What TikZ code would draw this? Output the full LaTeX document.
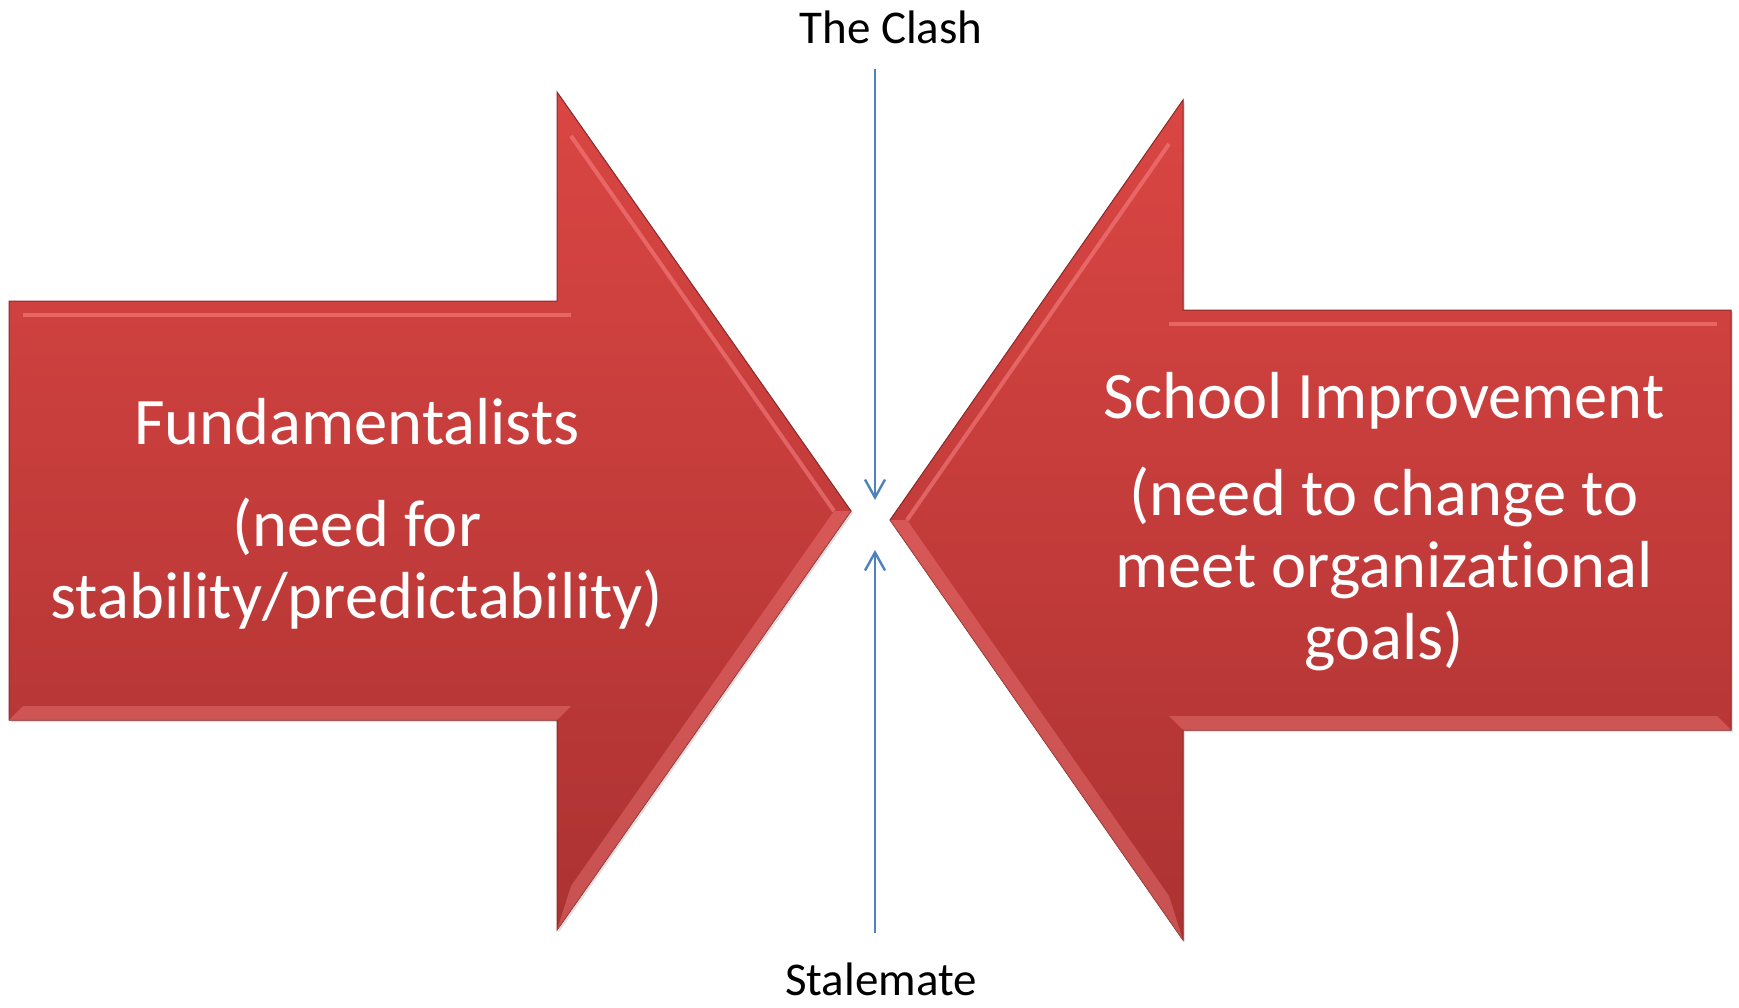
\documentclass[tikz,border=0pt]{standalone}
\usepackage{fontspec}
\setmainfont{Carlito}[Ligatures=NoCommon]
\usetikzlibrary{
  arrows.meta, % for Straight Barb arrow tip
  positioning, % for relative placement of the texts
  shadows % for the soft shadow under the block arrows
}
\definecolor{arrowtop}{RGB}{218,70,67}
\definecolor{arrowbot}{RGB}{172,50,50}
\definecolor{arrowedge}{RGB}{140,42,42}
\definecolor{bevellight}{RGB}{252,140,140}
\definecolor{clashblue}{RGB}{79,129,189}
\tikzset{
  bigarrow/.style={ % style for the two block arrows
    top color=arrowtop, bottom color=arrowbot, % vertical gradient
    draw=arrowedge, line width=1pt, % thin dark rim
    drop shadow={opacity=0.25, shadow xshift=2pt, shadow yshift=-2pt},
  },
  bevelline/.style={ % light line on the inner edge of the bevel
    draw=bevellight, line width=4pt, opacity=0.5,
  },
  bevelface/.style={ % lighter bevel face on the lower edges
    fill=bevellight, opacity=0.35,
  },
  inside/.style={ % white text on the arrows
    text=white, align=center, inner sep=0pt,
    font=\fontsize{66.5}{72}\selectfont,
  },
  sidetext/.style={ % black texts above and below
    text=black, inner sep=0pt,
    font=\fontsize{47}{56}\selectfont,
  },
  conn/.style={ % style for the two blue pointers
    -{Straight Barb[length=18pt,width=20pt]}, % open arrow tip
    draw=clashblue, line width=2.4pt,
  },
}

\begin{document}
\begin{tikzpicture}[x=1pt,y=-1pt]
\useasboundingbox (0,0) rectangle (1739,1007);
% left arrow
\filldraw[bigarrow] (9,301) -- (557,301) -- (557,92) -- (851,511) -- (557,930) -- (557,720) -- (9,720) -- cycle;
\fill[bevelface] (9,720) -- (557,720) -- (571,706) -- (23,706) -- cycle;
\fill[bevelface] (557,930) -- (851,511) -- (834,511) -- (571,886) -- cycle;
\draw[bevelline] (23,315) -- (571,315);
\draw[bevelline] (571,136) -- (834,511);
% right arrow
\filldraw[bigarrow] (1731,310) -- (1183,310) -- (1183,100) -- (890,520) -- (1183,940) -- (1183,730) -- (1731,730) -- cycle;
\fill[bevelface] (1731,730) -- (1183,730) -- (1169,716) -- (1717,716) -- cycle;
\fill[bevelface] (1183,940) -- (890,520) -- (907,520) -- (1169,896) -- cycle;
\draw[bevelline] (1717,324) -- (1169,324);
\draw[bevelline] (1169,144) -- (907,520);
% texts on the arrows
\node[inside, anchor=base] (fund) at (357,444) {Fundamentalists};
\node[inside, below=53pt of fund] (fundneed) {(need for\\stability/predictability)};
\node[inside, anchor=base] (school) at (1384,418) {School Improvement};
\node[inside, below=38pt of school] (schoolneed) {(need to change to\\meet organizational\\goals)};
% labels and pointers
\node[sidetext, anchor=base] (clash) at (891,43) {The Clash};
\node[sidetext, anchor=base] (stale) at (881,995) {Stalemate};
\coordinate (clashtop) at (875,69);
\coordinate (clashtip) at (875,500);
\coordinate (staletop) at (875,933);
\coordinate (staletip) at (875,550);
\draw[conn] (clashtop) -- (clashtip);
\draw[conn] (staletop) -- (staletip);
\end{tikzpicture}
\end{document}
